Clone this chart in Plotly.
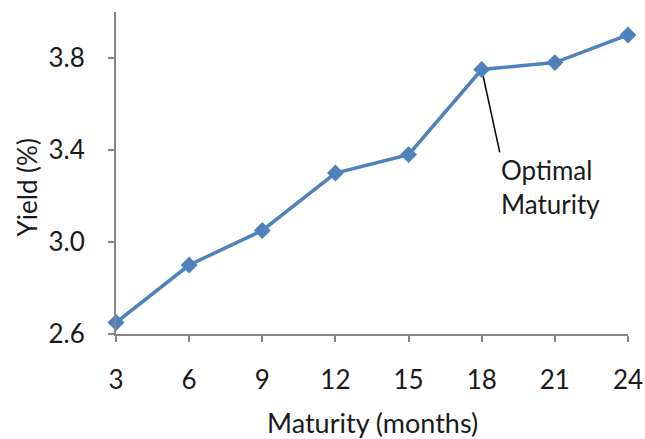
import plotly.graph_objects as go

maturity = [3, 6, 9, 12, 15, 18, 21, 24]
yield_pct = [2.65, 2.90, 3.05, 3.30, 3.38, 3.75, 3.78, 3.90]
y_ticks = [2.6, 3.0, 3.4, 3.8]
x_ticks = [3, 6, 9, 12, 15, 18, 21, 24]

FONT = "Lato"
FS = 26
BLUE = "#4F81BD"
AXIS = "#868686"

fig = go.Figure()
fig.add_trace(go.Scatter(
    x=maturity, y=yield_pct, mode="lines+markers",
    line=dict(color=BLUE, width=3.5),
    marker=dict(symbol="diamond", size=13, color=BLUE),
    cliponaxis=False, showlegend=False,
))

fig.update_layout(
    width=645, height=439,
    margin=dict(l=116, r=17, t=12, b=105, autoexpand=False),
    paper_bgcolor="white", plot_bgcolor="white",
    font=dict(family=FONT, size=FS, color="#1a1a1a"),
    xaxis=dict(
        range=[3, 24], tickvals=x_ticks, ticktext=[str(v) for v in x_ticks],
        showgrid=False, zeroline=False, showline=True, linecolor=AXIS, linewidth=2,
        ticks="outside", ticklen=6, tickwidth=1.5, tickcolor=AXIS,
        ticklabelstandoff=16, automargin=False,
    ),
    yaxis=dict(
        range=[2.6, 4.0], tickvals=y_ticks, ticktext=[f"{v:.1f}" for v in y_ticks],
        showgrid=False, zeroline=False, showline=True, linecolor=AXIS, linewidth=2,
        ticks="outside", ticklen=6, tickwidth=1.5, tickcolor=AXIS,
        ticklabelstandoff=18, automargin=False,
    ),
    annotations=[
        dict(text="Yield (%)", xref="paper", yref="paper", x=-0.172, y=0.455,
             textangle=-90, showarrow=False, font=dict(size=FS),
             xanchor="center", yanchor="middle"),
        dict(text="Maturity (months)", xref="paper", yref="paper", x=0.5, y=-0.275,
             showarrow=False, font=dict(size=27), xanchor="center", yanchor="middle"),
        dict(text="Optimal<br>Maturity", xref="x", yref="y", x=18.72, y=3.39,
             xanchor="left", yanchor="top", align="left", showarrow=False,
             font=dict(size=FS)),
    ],
    shapes=[
        dict(type="line", xref="x", yref="y", x0=18, y0=3.75, x1=18.74, y1=3.39,
             line=dict(color="black", width=1.5), layer="below"),
    ],
)

fig.write_html("out.html", config={"displayModeBar": False},
               post_script="document.body.style.margin='0';document.body.style.overflow='hidden';")
